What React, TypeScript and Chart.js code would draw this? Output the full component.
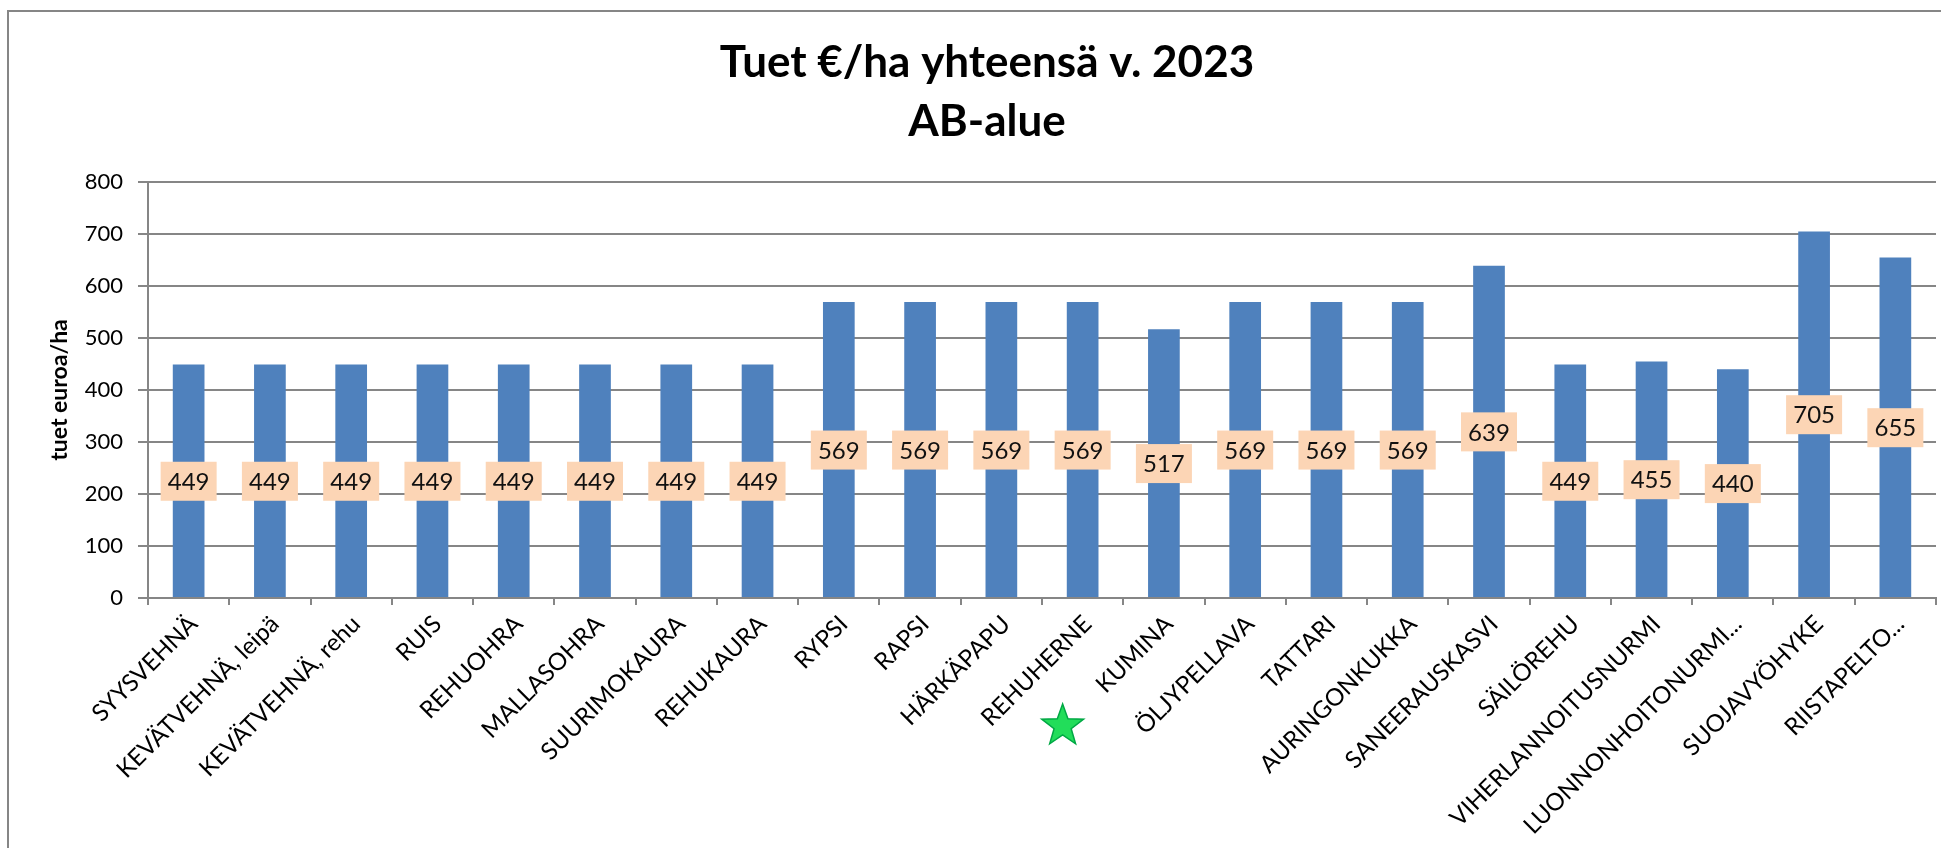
import React, { useEffect, useRef } from 'react';
import { Chart, registerables } from 'chart.js';

Chart.register(...registerables);

const titleLines = ['Tuet €/ha yhteensä v. 2023', 'AB-alue'];
const yAxisTitle = 'tuet euroa/ha';

const categories = [
  'SYYSVEHNÄ',
  'KEVÄTVEHNÄ, leipä',
  'KEVÄTVEHNÄ, rehu',
  'RUIS',
  'REHUOHRA',
  'MALLASOHRA',
  'SUURIMOKAURA',
  'REHUKAURA',
  'RYPSI',
  'RAPSI',
  'HÄRKÄPAPU',
  'REHUHERNE',
  'KUMINA',
  'ÖLJYPELLAVA',
  'TATTARI',
  'AURINGONKUKKA',
  'SANEERAUSKASVI',
  'SÄILÖREHU',
  'VIHERLANNOITUSNURMI',
  'LUONNONHOITONURMI...',
  'SUOJAVYÖHYKE',
  'RIISTAPELTO...',
];

const values = [449, 449, 449, 449, 449, 449, 449, 449, 569, 569, 569, 569, 517, 569, 569, 569, 639, 449, 455, 440, 705, 655];

const markedCategory = 'REHUHERNE';

const yMin = 0;
const yMax = 800;
const yStep = 100;

const FONT = 'Lato, "Open Sans", sans-serif';

const titlePlugin = {
  id: 'customTitle',
  afterDraw(chart: any) {
    const ctx = chart.ctx;
    ctx.save();
    ctx.fillStyle = '#000';
    ctx.textAlign = 'center';
    ctx.textBaseline = 'middle';
    ctx.font = `bold 44px ${FONT}`;
    ctx.fillText(titleLines[0], 987, 63);
    ctx.fillText(titleLines[1], 987, 122);
    ctx.restore();
  },
};

// Rotated category labels drawn at each category position given by the x scale
const categoryLabelPlugin = {
  id: 'categoryLabels',
  afterDraw(chart: any) {
    const ctx = chart.ctx;
    const xScale = chart.scales.x;
    const bottom = chart.chartArea.bottom;
    ctx.save();
    ctx.font = `24px ${FONT}`;
    ctx.fillStyle = '#000';
    ctx.textAlign = 'right';
    ctx.textBaseline = 'middle';
    categories.forEach((label, i) => {
      const x = xScale.getPixelForValue(i) + 5;
      const y = bottom + 22;
      ctx.save();
      ctx.translate(x, y);
      ctx.rotate(-Math.PI / 4);
      ctx.fillText(label, 0, 0);
      ctx.restore();
    });
    ctx.restore();
  },
};

const valueLabelPlugin = {
  id: 'valueLabels',
  afterDatasetsDraw(chart: any) {
    const ctx = chart.ctx;
    const meta = chart.getDatasetMeta(0);
    const yScale = chart.scales.y;
    ctx.save();
    ctx.font = `24px ${FONT}`;
    ctx.textAlign = 'center';
    ctx.textBaseline = 'middle';
    meta.data.forEach((bar: any, i: number) => {
      const v = values[i];
      const cx = bar.x;
      const cy = yScale.getPixelForValue(v / 2);
      const w = 56;
      const h = 39;
      ctx.fillStyle = '#FCD5B5';
      ctx.fillRect(cx - w / 2, cy - h / 2, w, h);
      ctx.fillStyle = '#111';
      ctx.fillText(String(v), cx, cy + 1);
    });
    ctx.restore();
  },
};

const starPlugin = {
  id: 'starMarker',
  afterDraw(chart: any) {
    const ctx = chart.ctx;
    const xScale = chart.scales.x;
    const idx = categories.indexOf(markedCategory);
    const cx = xScale.getPixelForValue(idx) - 20;
    const cy = chart.chartArea.bottom + 128;
    const outer = 22;
    const inner = 9;
    ctx.save();
    ctx.beginPath();
    for (let k = 0; k < 10; k++) {
      const r = k % 2 === 0 ? outer : inner;
      const a = -Math.PI / 2 + (k * Math.PI) / 5;
      const px = cx + r * Math.cos(a);
      const py = cy + r * Math.sin(a);
      if (k === 0) ctx.moveTo(px, py);
      else ctx.lineTo(px, py);
    }
    ctx.closePath();
    ctx.fillStyle = '#22DD5A';
    ctx.fill();
    ctx.lineWidth = 1.5;
    ctx.strokeStyle = '#00A844';
    ctx.stroke();
    ctx.restore();
  },
};

export default function App() {
  const canvasRef = useRef<HTMLCanvasElement | null>(null);

  useEffect(() => {
    document.body.style.margin = '0';
    document.body.style.overflow = 'hidden';
    const canvas = canvasRef.current;
    if (!canvas) return;
    const chart = new Chart(canvas, {
      type: 'bar',
      data: {
        labels: categories,
        datasets: [
          {
            data: values,
            backgroundColor: '#4F81BD',
            borderWidth: 0,
            barPercentage: 0.39,
            categoryPercentage: 1,
          },
        ],
      },
      options: {
        animation: false,
        responsive: false,
        devicePixelRatio: 1,
        layout: { padding: { left: 0, top: 182, right: 5, bottom: 0 } },
        plugins: {
          legend: { display: false },
          title: { display: false },
          tooltip: { enabled: false },
        },
        scales: {
          x: {
            offset: true,
            grid: {
              offset: true,
              drawOnChartArea: false,
              drawTicks: true,
              tickLength: 7,
              color: '#868686',
              lineWidth: 2,
            },
            border: { color: '#868686', width: 2 },
            ticks: {
              display: false,
              autoSkip: false,
            },
            afterFit(scale: any) {
              scale.height = 250;
            },
          },
          y: {
            min: yMin,
            max: yMax,
            grid: {
              color: '#868686',
              lineWidth: 2,
              tickLength: 10,
            },
            border: { color: '#868686', width: 2 },
            ticks: {
              stepSize: yStep,
              padding: 15,
              color: '#000',
              font: { family: FONT, size: 22 },
            },
            title: {
              display: true,
              text: yAxisTitle,
              color: '#000',
              font: { family: FONT, size: 23, weight: 'bold' },
              padding: { top: 46, bottom: 0 },
            },
            afterFit(scale: any) {
              scale.width = 148;
            },
          },
        },
      },
      plugins: [titlePlugin, valueLabelPlugin, categoryLabelPlugin, starPlugin],
    });
    return () => chart.destroy();
  }, []);

  return (
    <div style={{ position: 'fixed', left: 0, top: 0, width: 1941, height: 848, background: '#fff', overflow: 'hidden' }}>
      <div
        style={{
          position: 'absolute',
          left: 7,
          top: 10,
          width: 1960,
          height: 900,
          border: '2px solid #868686',
          boxSizing: 'border-box',
        }}
      />
      <canvas ref={canvasRef} width={1941} height={848} style={{ position: 'absolute', left: 0, top: 0, width: 1941, height: 848 }} />
    </div>
  );
}
